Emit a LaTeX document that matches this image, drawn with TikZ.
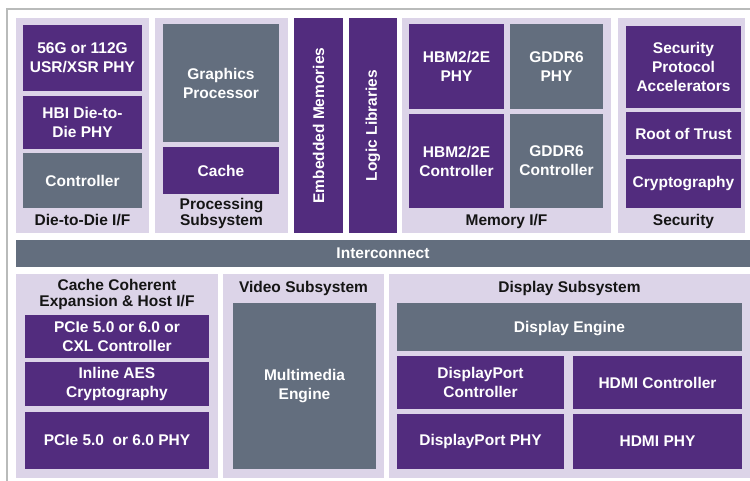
\documentclass[tikz,border=0pt]{standalone}
\usepackage{fontspec}
\setmainfont{Liberation Sans}
\definecolor{pur}{HTML}{522C7E}
\definecolor{slate}{HTML}{636E7E}
\definecolor{lav}{HTML}{DCD4E8}
\definecolor{frame}{HTML}{B9BBBA}
\definecolor{ink}{HTML}{151515}
\newcommand\bx[7]{\node[#2, anchor=north west, minimum width={(#5)-(#3)}, minimum height={(#6)-(#4)}] (#1) at (#3,#4) {#7};}
\begin{document}
\begin{tikzpicture}[x=1pt,y=-1pt,
  base/.style={inner sep=0pt, outer sep=0pt, align=center, font=\fontsize{15.5}{19}\selectfont\bfseries},
  pbox/.style={base, fill=pur, text=white},
  gbox/.style={base, fill=slate, text=white},
  panel/.style={base, fill=lav},
  nodepth/.style={text depth=0pt},
  lbl/.style={base, text=ink},
  lbltwo/.style={lbl, font=\fontsize{15.5}{16}\selectfont\bfseries}]
\useasboundingbox (0,0) rectangle (750,481);
\fill[white] (0,0) rectangle (750,481);
\draw[frame, line width=2pt] (7,481) -- (7,9) -- (750,9);
% top row panels
\bx{d2d}{panel}{16}{18}{149}{233}{}
\bx{proc}{panel}{155}{18}{288}{233}{}
\bx{mem}{panel}{402}{18}{611}{233}{}
\bx{sec}{panel}{618}{18}{745}{233}{}
% die to die
\bx{phy56}{pbox}{23}{25}{142}{91}{56G or 112G\\USR/XSR PHY}
\bx{hbi}{pbox}{23}{96}{142}{149}{HBI Die-to-\\Die PHY}
\bx{d2dctrl}{gbox}{23}{153}{142}{208}{Controller}
\node[lbl] (d2dl) at (82.5,220) {Die-to-Die I/F};
% processing
\bx{gfx}{gbox}{163}{24}{279}{142}{Graphics\\Processor}
\bx{cache}{pbox}{163}{147}{279}{194}{Cache}
\node[lbltwo] (procl) at (221.5,213) {Processing\\Subsystem};
% bars
\bx{emb}{pbox}{294}{18}{343}{233}{}
\bx{logic}{pbox}{349}{18}{397}{233}{}
\node[base, text=white, rotate=90] (embl) at (emb.center) {Embedded Memories};
\node[base, text=white, rotate=90] (logicl) at (logic.center) {Logic Libraries};
% memory
\bx{hbmphy}{pbox}{409}{24}{504}{109}{HBM2/2E\\PHY}
\bx{gddrphy}{gbox}{510}{24}{603}{109}{GDDR6\\PHY}
\bx{hbmctrl}{pbox}{409}{114}{504}{208}{HBM2/2E\\Controller}
\bx{gddrctrl}{gbox}{510}{114}{603}{208}{GDDR6\\Controller}
\node[lbl] (meml) at (506.5,221) {Memory I/F};
% security
\bx{spa}{pbox}{626}{26}{741}{108}{Security\\Protocol\\Accelerators}
\bx{rot}{pbox}{626}{112}{741}{155}{Root of Trust}
\bx{crypt}{pbox}{626}{159}{741}{208}{Cryptography}
\node[lbl] (secl) at (683.5,221) {Security};
% interconnect
\bx{ic}{gbox,nodepth}{16}{240}{750}{267}{Interconnect}
% bottom panels
\bx{cc}{panel}{16}{274}{218}{478}{}
\bx{vid}{panel}{223}{274}{384}{478}{}
\bx{disp}{panel}{389}{274}{750}{478}{}
\node[lbltwo] (ccl) at (117,294) {Cache Coherent\\Expansion \& Host I/F};
\bx{pciectrl}{pbox}{25}{315}{209}{358}{PCIe 5.0 or 6.0 or\\CXL Controller}
\bx{aes}{pbox}{25}{362}{209}{406}{Inline AES\\Cryptography}
\bx{pciephy}{pbox}{25}{412}{209}{469}{PCIe 5.0\ \ or 6.0 PHY}
\node[lbl] (vidl) at (303.5,288) {Video Subsystem};
\bx{mm}{gbox}{233}{303}{376}{469}{Multimedia\\Engine}
\node[lbl] (displ) at (569.5,288) {Display Subsystem};
\bx{deng}{gbox,nodepth}{397}{303}{742}{351}{Display Engine}
\bx{dpctrl}{pbox}{397}{356}{564}{409}{DisplayPort\\Controller}
\bx{hdmictrl}{pbox}{573}{356}{742}{409}{HDMI Controller}
\bx{dpphy}{pbox}{397}{414}{564}{469}{DisplayPort PHY}
\bx{hdmiphy}{pbox}{573}{414}{742}{469}{HDMI PHY}
\end{tikzpicture}
\end{document}
